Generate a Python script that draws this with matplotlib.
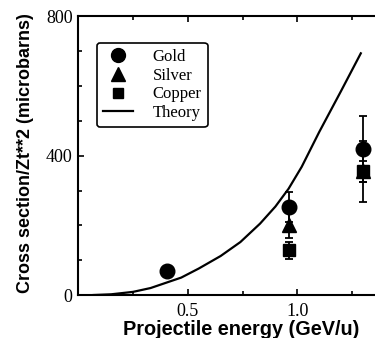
import numpy as np
import matplotlib.pyplot as plt
from matplotlib.ticker import MultipleLocator
from matplotlib.lines import Line2D

# data
gold_x = [0.405, 0.96, 1.30]
gold_y = [70, 254, 420]
gold_err = [12, 43, 95]

silver_x = [0.96, 1.30]
silver_y = [200, 355]
silver_err = [35, 30]

copper_x = [0.96, 1.30]
copper_y = [128, 355]
copper_err = [25, 88]

theory_x = [0.07, 0.15, 0.25, 0.33, 0.40, 0.47, 0.55, 0.65, 0.74, 0.83, 0.90, 0.96, 1.02, 1.10, 1.20, 1.29]
theory_y = [0, 2, 9, 20, 35, 50, 76, 112, 152, 205, 254, 305, 368, 468, 586, 694]

serif = 'Liberation Serif'
sans = 'Liberation Sans'

fig = plt.figure(figsize=(3.75, 3.38), dpi=100)
ax = fig.add_axes([78.3 / 375, 43 / 338, 1.5 * 219 / 375, 278.6 / 338])

# theory curve
ax.plot(theory_x, theory_y, color='black', lw=1.6)

# measurements
eb = dict(color='black', ecolor='black', elinewidth=1.3, capsize=3.2, capthick=1.3, linestyle='none')
ax.errorbar(gold_x, gold_y, yerr=gold_err, marker='o', ms=10.5, **eb)
ax.errorbar(silver_x, silver_y, yerr=silver_err, marker='^', ms=10, **eb)
ax.errorbar(copper_x, copper_y, yerr=copper_err, marker='s', ms=8, **eb)

# axes
ax.set_xlim(0, 1.5)
ax.set_ylim(0, 800)
ax.xaxis.set_minor_locator(MultipleLocator(0.25))
ax.yaxis.set_minor_locator(MultipleLocator(100))
ax.set_xticks([0.5, 1.0])
ax.set_xticklabels(['0.5', '1.0'])
ax.set_yticks([0, 400, 800])
ax.set_yticklabels(['0', '400', '800'])
ax.tick_params(which='both', direction='in', top=True, right=False, width=1.2, color='black')
ax.tick_params(which='major', length=4.5)
ax.tick_params(which='minor', length=3)
ax.tick_params(axis='x', pad=6)
ax.tick_params(axis='y', pad=4)
for lab in ax.get_xticklabels() + ax.get_yticklabels():
    lab.set_fontfamily(serif)
    lab.set_fontsize(13)
ax.spines['right'].set_visible(False)
for s in ['left', 'bottom', 'top']:
    ax.spines[s].set_linewidth(1.5)

ax.set_xlabel('Projectile energy (GeV/u)', fontfamily=sans, fontweight='bold', fontsize=14.3)
ax.set_ylabel('Cross section/Zt**2 (microbarns)', fontfamily=sans, fontweight='bold', fontsize=13)
ax.xaxis.set_label_coords(0.497, -0.09)
ax.yaxis.set_label_coords(-0.135, 0.51)

# legend (plain marker handles, no error bars)
mk = dict(color='black', linestyle='none')
handles = [Line2D([], [], marker='o', ms=10, **mk),
           Line2D([], [], marker='^', ms=9.5, **mk),
           Line2D([], [], marker='s', ms=7.5, **mk),
           Line2D([], [], color='black', lw=1.6)]
labels = ['Gold', 'Silver', 'Copper', 'Theory']
leg = ax.legend(handles, labels,
                loc='upper left', bbox_to_anchor=(97 / 375, 1 - 43 / 338),
                bbox_transform=fig.transFigure, borderaxespad=0,
                prop={'family': serif, 'size': 12}, frameon=True, fancybox=True,
                handlelength=1.8, handletextpad=1.2, labelspacing=0.17,
                borderpad=0.35)
leg.get_frame().set_edgecolor('black')
leg.get_frame().set_linewidth(1.2)
leg.get_frame().set_alpha(1)

fig.savefig('out.png', dpi=100)
